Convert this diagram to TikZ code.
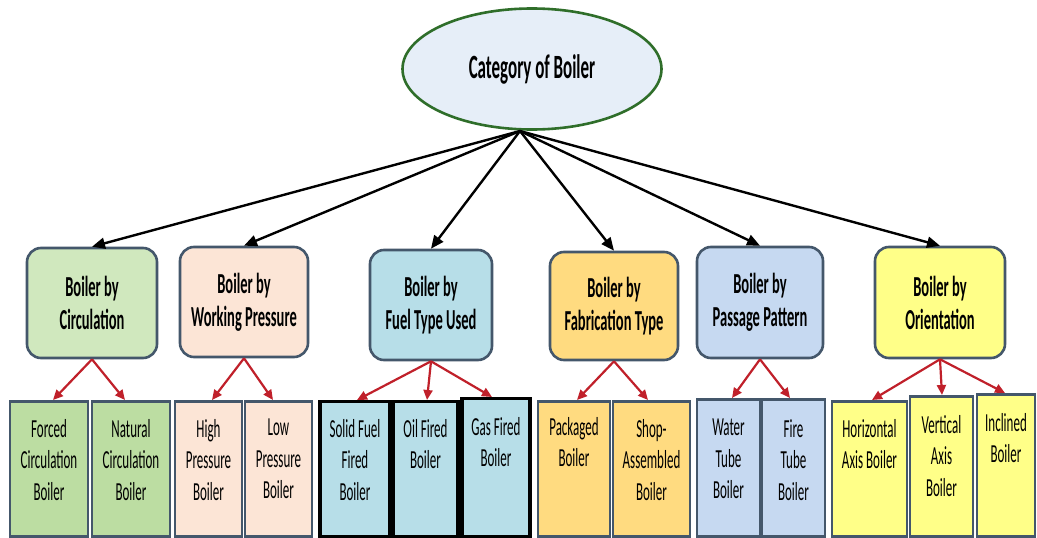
\documentclass[tikz,border=0pt]{standalone}
\usepackage{fontspec}
\setmainfont[FakeStretch=0.5]{Carlito}
\usetikzlibrary{shapes.geometric,arrows.meta}
\definecolor{ellfill}{HTML}{E6EEF8}
\definecolor{ellline}{HTML}{2F6E2A}
\definecolor{boxline}{HTML}{44576B}
\definecolor{cgreenA}{HTML}{D0E8BE}
\definecolor{cgreenB}{HTML}{BCDDA2}
\definecolor{cpeach}{HTML}{FCE5D6}
\definecolor{cfuel}{HTML}{B7DEE8}
\definecolor{cgold}{HTML}{FFDB80}
\definecolor{cpass}{HTML}{C6D9F1}
\definecolor{cyel}{HTML}{FFFF88}
\definecolor{redarrow}{HTML}{C0202A}
\tikzset{
  midbox/.style={draw=boxline, line width=2.6pt, rounded corners=14pt, align=center,
    font=\fontsize{29}{33}\selectfont\bfseries, inner sep=0pt},
  leafbox/.style={draw=boxline, line width=2.6pt, inner sep=0pt, anchor=north},
  fuelbox/.style={draw=black, line width=3.2pt, inner sep=0pt, anchor=north},
  leaftext/.style={anchor=north, align=center, inner sep=0pt,
    font=\fontsize{26}{31.5}\selectfont},
  blackarrow/.style={line width=2.4pt, -{Triangle[length=13pt,width=11pt]}},
  redarr/.style={draw=redarrow, line width=2.2pt, -{Triangle[length=10pt,width=9pt]}}
}
\begin{document}
\begin{tikzpicture}[x=1pt,y=-1pt]
\useasboundingbox[fill=white] (0,0) rectangle (1037,538);
% root
\node[ellipse, draw=ellline, line width=2.6pt, fill=ellfill, minimum width=259pt, minimum height=121pt,
  font=\fontsize{34}{38}\selectfont\bfseries] (root) at (532,69) {Category of Boiler};
\coordinate (src) at (520,131);
% middle boxes
\node[midbox, fill=cgreenA, minimum width=130pt, minimum height=110pt] (m1) at (92,303) {Boiler by\\Circulation};
\node[midbox, fill=cpeach, minimum width=128pt, minimum height=110pt] (m2) at (244,302) {Boiler by\\Working Pressure};
\node[midbox, fill=cfuel, minimum width=122pt, minimum height=110pt] (m3) at (431,305) {Boiler by\\Fuel Type Used};
\node[midbox, fill=cgold, minimum width=128pt, minimum height=108pt] (m4) at (614,306) {Boiler by\\Fabrication Type};
\node[midbox, fill=cpass, minimum width=126pt, minimum height=111pt] (m5) at (760,302.5) {Boiler by\\Passage Pattern};
\node[midbox, fill=cyel, minimum width=130pt, minimum height=111pt] (m6) at (940,302.5) {Boiler by\\Orientation};
% leaf boxes
\node[leafbox, fill=cgreenB, minimum width=78pt, minimum height=135pt] (l1) at (49,400) {};
\node[leafbox, fill=cgreenB, minimum width=78pt, minimum height=135pt] (l2) at (131,400) {};
\node[leafbox, fill=cpeach, minimum width=67pt, minimum height=135pt] (l3) at (208.5,400) {};
\node[leafbox, fill=cpeach, minimum width=67pt, minimum height=135pt] (l4) at (278.5,400) {};
\node[fuelbox, fill=cfuel, minimum width=70pt, minimum height=135pt] (l5) at (355,400) {};
\node[fuelbox, fill=cfuel, minimum width=65pt, minimum height=135pt] (l6) at (425.5,400) {};
\node[fuelbox, fill=cfuel, minimum width=68pt, minimum height=138pt] (l7) at (496,397) {};
\node[leafbox, fill=cgold, minimum width=72pt, minimum height=135pt] (l8) at (574,400) {};
\node[leafbox, fill=cgold, minimum width=77pt, minimum height=135pt] (l9) at (651.5,400) {};
\node[leafbox, fill=cpass, minimum width=63pt, minimum height=137pt] (l10) at (728.5,398) {};
\node[leafbox, fill=cpass, minimum width=63pt, minimum height=137pt] (l11) at (793.5,398) {};
\node[leafbox, fill=cyel, minimum width=75pt, minimum height=135pt] (l12) at (869.5,400) {};
\node[leafbox, fill=cyel, minimum width=63pt, minimum height=140pt] (l13) at (941.5,395) {};
\node[leafbox, fill=cyel, minimum width=58pt, minimum height=142pt] (l14) at (1006,393) {};
% leaf texts
\node[leaftext] (t1) at ([yshift=-19pt]l1.north) {Forced\\Circulation\\Boiler};
\node[leaftext] (t2) at ([yshift=-19pt]l2.north) {Natural\\Circulation\\Boiler};
\node[leaftext] (t3) at ([yshift=-19pt]l3.north) {High\\Pressure\\Boiler};
\node[leaftext] (t4) at ([yshift=-19pt]l4.north) {Low\\Pressure\\Boiler};
\node[leaftext] (t5) at ([yshift=-19pt]l5.north) {Solid Fuel\\Fired\\Boiler};
\node[leaftext] (t6) at ([yshift=-19pt]l6.north) {Oil Fired\\Boiler};
\node[leaftext] (t7) at ([yshift=-20pt]l7.north) {Gas Fired\\Boiler};
\node[leaftext] (t8) at ([yshift=-17pt]l8.north) {Packaged\\Boiler};
\node[leaftext] (t9) at ([yshift=-19pt]l9.north) {Shop-\\Assembled\\Boiler};
\node[leaftext] (t10) at ([yshift=-21pt]l10.north) {Water\\Tube\\Boiler};
\node[leaftext] (t11) at ([yshift=-21pt]l11.north) {Fire\\Tube\\Boiler};
\node[leaftext] (t12) at ([yshift=-19pt]l12.north) {Horizontal\\Axis Boiler};
\node[leaftext] (t13) at ([yshift=-20pt]l13.north) {Vertical\\Axis\\Boiler};
\node[leaftext] (t14) at ([yshift=-20pt]l14.north) {Inclined\\Boiler};
% black arrows
\foreach \m in {m1,m2,m3,m4,m5,m6}{
  \draw[blackarrow] (src) -- (\m.north);
}
% red arrows
\draw[redarr] (m1.south) -- ([xshift=4pt]l1.north);
\draw[redarr] (m1.south) -- ([xshift=-6pt]l2.north);
\draw[redarr] (m2.south) -- ([xshift=3.5pt]l3.north);
\draw[redarr] (m2.south) -- ([xshift=-5.5pt]l4.north);
\draw[redarr] (m3.south) -- ([xshift=2pt]l5.north);
\draw[redarr] (m3.south) -- ([xshift=1.5pt]l6.north);
\draw[redarr] (m3.south) -- ([xshift=-4pt]l7.north);
\draw[redarr] (m4.south) -- ([xshift=3pt]l8.north);
\draw[redarr] (m4.south) -- ([xshift=-3.5pt]l9.north);
\draw[redarr] (m5.south) -- ([xshift=3.5pt]l10.north);
\draw[redarr] (m5.south) -- ([xshift=-3.5pt]l11.north);
\draw[redarr] (m6.south) -- ([xshift=2.5pt]l12.north);
\draw[redarr] (m6.south) -- ([xshift=0.5pt]l13.north);
\draw[redarr] (m6.south) -- ([xshift=-1pt]l14.north);
\end{tikzpicture}
\end{document}
